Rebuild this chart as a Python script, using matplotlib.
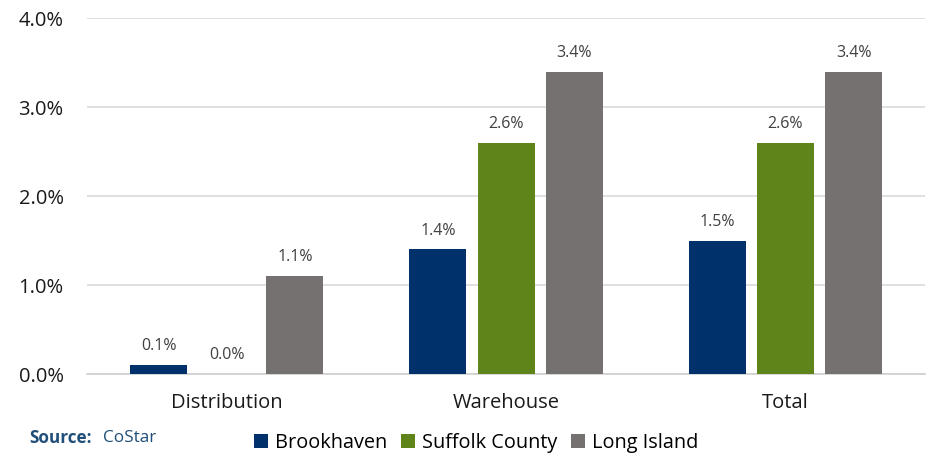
import numpy as np
import matplotlib.pyplot as plt
from matplotlib.patches import Patch

categories = ['Distribution', 'Warehouse', 'Total']
brookhaven = [0.1, 1.4, 1.5]
suffolk = [0.0, 2.6, 2.6]
long_island = [1.1, 3.4, 3.4]
series_names = ['Brookhaven', 'Suffolk County', 'Long Island']
colors = ['#00316b', '#5e841a', '#767171']

plt.rcParams['font.family'] = ['Open Sans', 'DejaVu Sans']

fig = plt.figure(figsize=(9.27, 4.55), dpi=100)
ax = fig.add_axes([0.094, 0.178, 0.904, 0.782])

x = np.arange(len(categories))
w = 0.204
step = 0.244
for i, (vals, c) in enumerate(zip([brookhaven, suffolk, long_island], colors)):
    pos = x + (i - 1) * step
    ax.bar(pos, vals, width=w, color=c, zorder=3)
    for p, v in zip(pos, vals):
        ax.text(p, v + 0.12, f'{v:.1f}%', ha='center', va='bottom',
                fontsize=11.5, color='#404040')

ax.set_xlim(-0.5, 2.5)
ax.set_ylim(0, 4)
ax.set_yticks([0, 1, 2, 3, 4])
ax.set_yticklabels([f'{t:.1f}%' for t in [0, 1, 2, 3, 4]])
ax.set_xticks(x)
ax.set_xticklabels(categories)
ax.tick_params(axis='both', length=0, labelsize=14.5, colors='#1a1a1a')
ax.tick_params(axis='y', pad=17)
ax.tick_params(axis='x', pad=14)
ax.grid(axis='y', color='#d9d9d9', linewidth=1.2, zorder=0)
for s in ['top', 'right', 'left']:
    ax.spines[s].set_visible(False)
ax.spines['bottom'].set_color('#d0d0d0')
ax.spines['bottom'].set_linewidth(1.2)

handles = [Patch(facecolor=c, label=n) for c, n in zip(colors, series_names)]
fig.legend(handles=handles, loc='center', bbox_to_anchor=(0.514, 0.027), ncol=3,
           frameon=False, fontsize=14.3, handlelength=0.7, handleheight=0.7,
           handletextpad=0.35, columnspacing=0.7)

fig.text(0.032, 0.037, 'Source:', fontsize=12.3, fontweight='bold', color='#1f4e79',
         va='center')
fig.text(0.111, 0.037, 'CoStar', fontsize=12.3, color='#1f4e79', va='center')

fig.savefig('out.png', dpi=100)
